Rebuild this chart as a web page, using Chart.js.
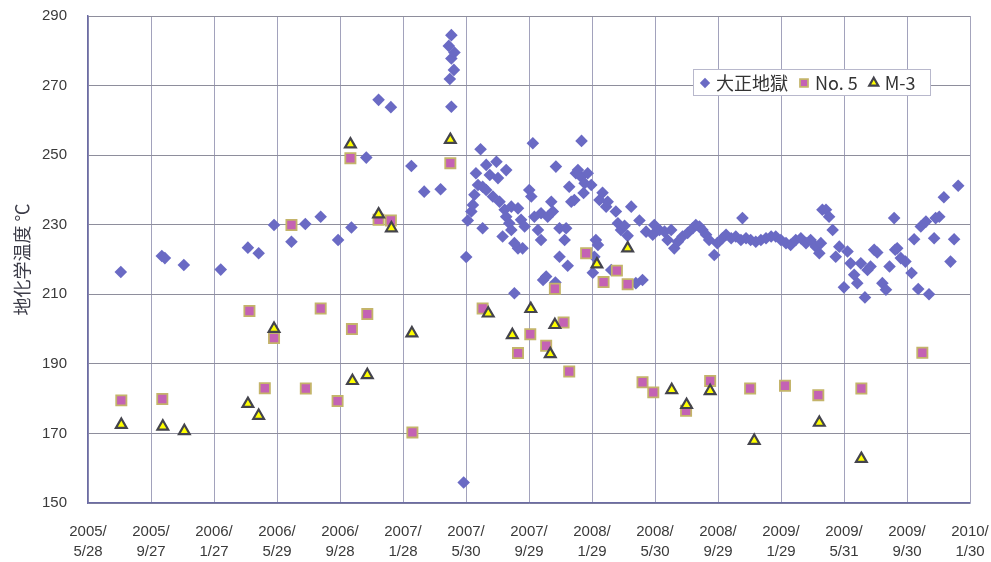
<!DOCTYPE html>
<html>
<head>
<meta charset="utf-8">
<script src="https://cdn.jsdelivr.net/npm/chart.js@4.4.0/dist/chart.umd.min.js"></script>
<style>
  html, body { margin: 0; padding: 0; background: #fff; }
  #chart { display: block; }
</style>
</head>
<body>
<canvas id="chart" width="991" height="562"></canvas>
<script>
// x = days counted from 2005/5/28, y = geochemical temperature (℃)
const xTickLabels = ["2005/5/28", "2005/9/27", "2006/1/27", "2006/5/29", "2006/9/28",
  "2007/1/28", "2007/5/30", "2007/9/29", "2008/1/29", "2008/5/30", "2008/9/29",
  "2009/1/29", "2009/5/31", "2009/9/30", "2010/1/30"];
const xStep = 122;
const xMax = 1721;
const yMin = 150, yMax = 290, yStep = 20;

const taisho = [
  [64, 216.4], [144, 221], [150, 220.4], [187, 218.4], [259, 217.1], [312, 223.4], [333, 221.8],
  [363, 229.9], [397, 225.1], [424, 230.2], [454, 232.3], [488, 225.6], [514, 229.2], [543, 249.3],
  [567, 265.9], [591, 263.8], [631, 246.9], [656, 239.5], [688, 240.2],
  [704, 281.4], [706, 271.9], [709, 284.5], [709, 277.8], [714, 274.5], [715, 279.5], [709, 263.9],
  [733, 155.9], [738, 220.7],
  [741, 231.2], [748, 233.8], [751, 235.7], [754, 238.6], [757, 244.8], [761, 241.4], [766, 251.7],
  [770, 240.9], [770, 229.0], [777, 247.2], [777, 240.0], [784, 244.3], [790, 238.1], [797, 248.1],
  [800, 243.4], [803, 236.6], [809, 226.6], [813, 234.3], [816, 245.7], [816, 232.3], [822, 230.4],
  [826, 235.2], [826, 228.5], [832, 224.7], [832, 210.3], [839, 234.7], [839, 223.2], [845, 231.4],
  [848, 223.2], [852, 229.5], [861, 240.0], [865, 238.1], [868, 253.4], [871, 232.3], [878, 228.5],
  [884, 233.3], [884, 225.6], [888, 214.1], [894, 215.1], [897, 232.3], [904, 236.6], [907, 233.8],
  [912, 213.4], [913, 246.7], [920, 229.0], [920, 220.8], [930, 225.6], [933, 229.0], [936, 218.2],
  [939, 240.9], [943, 236.6], [949, 237.1], [952, 244.8], [956, 245.7], [962, 243.8], [963, 254.1],
  [967, 239.1], [969, 241.9], [975, 244.8], [982, 241.4], [985, 216.2], [988, 220.8], [991, 225.6],
  [995, 224.2], [998, 237.1], [1004, 239.2], [1011, 235.2], [1014, 236.6], [1021, 217.0], [1030, 233.8],
  [1034, 230.4], [1040, 228.5], [1047, 229.7], [1053, 226.8], [1060, 235.2], [1069, 213.2], [1076, 231.2],
  [1082, 214.1], [1089, 228.0], [1102, 227.1], [1105, 229.9], [1115, 228.5], [1125, 228.0], [1131, 225.6],
  [1138, 228.5], [1144, 223.2], [1151, 225.1], [1160, 226.6], [1170, 227.6], [1180, 229.0], [1186, 229.9],
  [1193, 229.5], [1199, 228.5], [1206, 227.1], [1212, 225.6], [1222, 221.3], [1228, 224.7], [1238, 226.1],
  [1245, 227.1], [1255, 226.1], [1264, 226.6], [1274, 225.6], [1277, 231.9], [1284, 226.1], [1293, 225.6],
  [1303, 225.1], [1313, 225.6], [1323, 226.1], [1333, 226.6], [1342, 226.6], [1352, 225.6], [1362, 224.7],
  [1371, 224.2], [1381, 225.6], [1391, 226.1], [1401, 224.7], [1410, 225.6], [1420, 223.7], [1427, 221.8],
  [1430, 224.7], [1433, 234.3], [1440, 234.3], [1446, 232.3], [1453, 228.5], [1459, 220.8], [1466, 223.7],
  [1475, 212.0], [1482, 222.3], [1488, 218.9], [1495, 215.6], [1501, 213.2], [1508, 218.9], [1516, 209.1],
  [1521, 217.0], [1527, 218.0], [1534, 222.8], [1540, 222.0], [1550, 213.2], [1557, 211.3], [1564, 218.0],
  [1573, 231.9], [1575, 222.8], [1579, 223.2], [1586, 220.4], [1595, 219.4], [1607, 216.1], [1612, 225.8],
  [1620, 211.5], [1625, 229.5], [1635, 230.9], [1641, 210.0], [1651, 226.1], [1654, 231.9], [1661, 232.3],
  [1670, 237.9], [1683, 219.4], [1690, 225.8], [1698, 241.2]
];

const no5 = [
  [65, 179.5], [145, 179.9], [315, 205.2], [345, 183.0], [363, 197.4], [397, 229.9], [425, 182.9],
  [454, 205.9], [487, 179.3], [512, 249.1], [515, 200.0], [545, 204.3], [567, 231.4], [591, 231.2],
  [633, 170.3], [707, 247.7], [770, 205.9], [839, 193.1], [863, 198.5], [894, 195.2], [911, 211.6],
  [928, 201.9], [939, 187.8], [972, 221.8], [1006, 213.5], [1032, 216.8], [1053, 212.9], [1082, 184.7],
  [1103, 181.8], [1167, 176.5], [1214, 185.1], [1292, 182.9], [1360, 183.7], [1425, 181.0], [1509, 182.9],
  [1628, 193.2]
];

const m3 = [
  [65, 172.5], [146, 172.0], [188, 170.7], [312, 178.5], [333, 175.1], [363, 200.1], [512, 253.1],
  [516, 185.1], [545, 186.8], [567, 233.0], [592, 229.0], [632, 198.8], [707, 254.4], [781, 204.5],
  [828, 198.3], [864, 205.8], [902, 192.8], [911, 201.2], [993, 218.6], [1053, 223.2], [1139, 182.5],
  [1168, 178.2], [1214, 182.2], [1300, 167.9], [1427, 173.1], [1509, 162.7]
];

const toXY = arr => arr.map(p => ({ x: p[0], y: p[1] }));

// legend drawn inside the plot, like the original
const legendBox = {
  id: "legendBox",
  afterDraw(chart) {
    const ctx = chart.ctx;
    const area = chart.chartArea;
    const left = area.right - 277, top = area.top + 53, w = 237, h = 26;
    ctx.save();
    ctx.fillStyle = "#fff";
    ctx.fillRect(left, top, w, h);
    ctx.strokeStyle = "#b8b8cc";
    ctx.lineWidth = 1;
    ctx.strokeRect(left + 0.5, top + 0.5, w, h);
    ctx.font = "18px 'Noto Sans CJK JP', 'Liberation Sans', sans-serif";
    ctx.textBaseline = "middle";
    let x = left + 12;
    const y = top + h / 2 + 1;
    const sizes = [5.2, 5.6, 5.2];
    chart.data.datasets.forEach((ds, i) => {
      ctx.fillStyle = ds.backgroundColor;
      ctx.strokeStyle = ds.borderColor;
      ctx.lineWidth = ds.borderWidth;
      Chart.helpers.drawPoint(ctx, { pointStyle: ds.pointStyle, radius: sizes[i], rotation: 0, borderWidth: ds.borderWidth }, x, y);
      ctx.fillStyle = "#333";
      ctx.fillText(ds.label, x + 11, y);
      x += 11 + ctx.measureText(ds.label).width + 16;
    });
    // right frame line of the plot
    ctx.strokeStyle = "#a4a4bc";
    ctx.lineWidth = 1;
    ctx.beginPath();
    ctx.moveTo(area.right + 0.5, area.top);
    ctx.lineTo(area.right + 0.5, area.bottom);
    ctx.stroke();
    ctx.restore();
  }
};

new Chart(document.getElementById("chart"), {
  type: "scatter",
  data: {
    datasets: [
      {
        label: "大正地獄",
        data: toXY(taisho),
        pointStyle: "rectRot",
        pointRadius: 6.3,
        backgroundColor: "#6a6ac4",
        borderColor: "#6a6ac4",
        borderWidth: 0,
        order: 3
      },
      {
        label: "No. 5",
        data: toXY(no5),
        pointStyle: "rect",
        pointRadius: 7.2,
        backgroundColor: "#c462b4",
        borderColor: "#c4b46a",
        borderWidth: 1.8,
        order: 2
      },
      {
        label: "M-3",
        data: toXY(m3),
        pointStyle: "triangle",
        pointRadius: 6.2,
        backgroundColor: "#ffff00",
        borderColor: "#44444c",
        borderWidth: 2.2,
        order: 1
      }
    ]
  },
  options: {
    responsive: false,
    animation: false,
    layout: { padding: { top: 16, right: 21, left: 0, bottom: 0 } },
    plugins: {
      legend: { display: false },
      tooltip: { enabled: false }
    },
    scales: {
      x: {
        type: "linear",
        min: 0,
        max: xMax,
        afterFit: s => { s.height = 59; s.paddingLeft = 0; s.paddingRight = 0; },
        grid: { color: "#a2a2bc", lineWidth: 1, drawTicks: false },
        border: { color: "#6c6ca4", width: 1.5 },
        ticks: {
          stepSize: xStep,
          includeBounds: false,
          autoSkip: false,
          maxRotation: 0,
          padding: 19,
          color: "#3a3a3a",
          font: { family: "'Liberation Sans', Arial, sans-serif", size: 15, lineHeight: 1.33 },
          callback: (v, i) => {
            const t = xTickLabels[i] || "";
            const k = t.indexOf("/");
            return [t.slice(0, k + 1), t.slice(k + 1)];
          }
        }
      },
      y: {
        min: yMin,
        max: yMax,
        afterFit: s => { s.width = 88; s.paddingTop = 0; s.paddingBottom = 0; },
        grid: { color: "#8e8e9c", lineWidth: 1, drawTicks: false },
        border: { color: "#6c6ca4", width: 1.5 },
        ticks: {
          stepSize: yStep,
          padding: 21,
          color: "#3a3a3a",
          font: { family: "'Liberation Sans', Arial, sans-serif", size: 15 }
        },
        title: {
          display: true,
          text: "地化学温度 ℃",
          color: "#3c3c48",
          padding: { top: 11, bottom: 0 },
          font: { family: "'Noto Sans CJK JP', sans-serif", size: 18 }
        }
      }
    }
  },
  plugins: [legendBox]
});
</script>
</body>
</html>
